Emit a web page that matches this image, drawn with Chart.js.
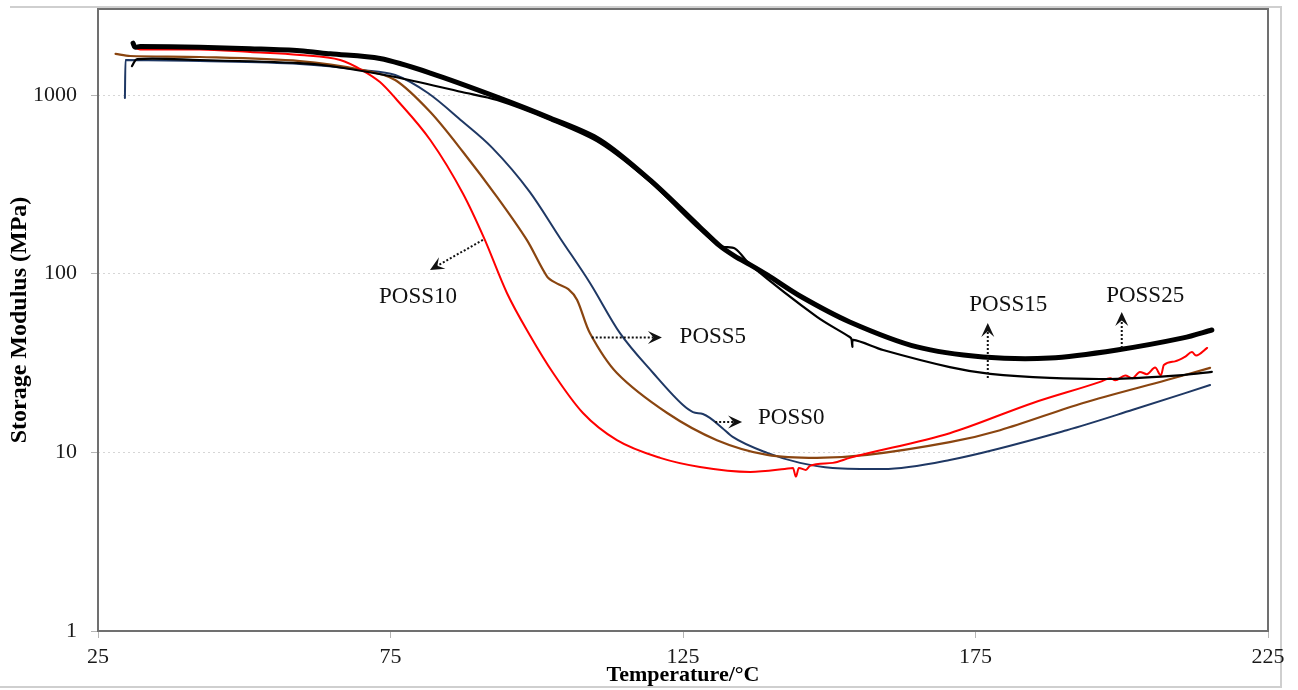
<!DOCTYPE html>
<html><head><meta charset="utf-8">
<script src="https://cdn.jsdelivr.net/npm/chart.js@4.4.1/dist/chart.umd.min.js"></script>
<style>html,body{margin:0;padding:0;background:#fff;overflow:hidden;} canvas{display:block;}</style>
</head><body>
<canvas id="c" width="1298" height="690"></canvas>
<script>
// ---- axis ticks ----
const xTicks = [25, 75, 125, 175, 225];
const yTicks = [1, 10, 100, 1000];

// ---- series (temperature °C, storage modulus MPa) ----
const poss25T = [31.0, 31.3, 32.2, 42.4, 51.0, 59.5, 64.7, 73.2, 81.8, 93.2, 102.3, 110.8, 119.4, 127.9, 131.3, 133.9, 136.5, 139.4, 145.0, 153.5, 165.0, 176.3, 187.7, 199.2, 210.5, 215.4];
const poss25E = [1950, 1856, 1870, 1850, 1815, 1770, 1700, 1600, 1328, 975, 744, 560, 334, 182, 143, 125, 112, 98.4, 75.0, 53.7, 38.9, 34.2, 33.7, 37.4, 43.7, 48.4];

const poss15T = [30.8, 31.7, 42.4, 59.5, 64.7, 75.8, 87.2, 93.2, 102.3, 110.8, 119.4, 127.9, 131.3, 133.9, 136.5, 147.9, 153.5, 153.8, 153.95, 154.1, 159.2, 170.6, 177.5, 187.7, 199.2, 210.5, 215.4];
const poss15E = [1452, 1590, 1570, 1510, 1453, 1261, 1039, 938, 725, 539, 326, 176, 143, 138, 112, 57.3, 44.2, 43.0, 39.0, 42.6, 37.4, 30.0, 27.5, 26.1, 25.8, 27.1, 28.2];

const poss10T = [31.1, 32.2, 42.4, 51.0, 59.5, 66.4, 70.1, 73.2, 76.1, 81.8, 87.4, 91.0, 94.9, 98.8, 102.8, 107.9, 113.7, 121.1, 127.9, 136.5, 142.4, 143.8, 144.3, 144.8, 146.0, 146.7, 150.6, 153.5, 170.6, 184.8, 196.3, 198.0, 198.9, 200.6, 201.8, 203.1, 204.3, 205.7, 206.7, 207.2, 209.1, 210.8, 212.0, 212.7, 214.6];
const poss10E = [1850, 1800, 1800, 1740, 1675, 1570, 1380, 1182, 938, 560, 280, 158, 78.0, 45.4, 27.8, 16.6, 11.7, 9.31, 8.28, 7.77, 8.07, 8.18, 7.3, 8.18, 7.97, 8.4, 8.73, 9.31, 12.8, 18.9, 24.8, 26.0, 25.3, 26.9, 26.0, 28.2, 27.4, 29.8, 27.0, 30.8, 32.3, 34.2, 36.4, 34.8, 38.4];

const poss5T = [28.0, 30.5, 42.4, 59.5, 70.3, 75.8, 81.8, 87.4, 93.2, 98.3, 101.8, 103.5, 105.4, 106.9, 109.1, 113.7, 122.3, 130.8, 139.4, 147.9, 156.5, 170.6, 179.2, 193.4, 207.7, 215.1];
const poss5E = [1700, 1653, 1632, 1549, 1380, 1213, 803, 480, 269, 154.5, 96, 88, 82, 71.3, 46.4, 27.8, 16.6, 11.7, 9.67, 9.31, 9.67, 11.4, 13.3, 18.9, 25.4, 29.7];

const poss0T = [29.6, 29.7, 42.4, 59.5, 70.1, 75.8, 81.4, 87.2, 92.4, 98.8, 104.0, 109.1, 114.2, 119.9, 125.0, 126.7, 128.4, 129.6, 131.7, 133.5, 139.4, 145.0, 150.6, 159.2, 170.6, 190.6, 201.9, 215.1];
const poss0E = [962, 1570, 1549, 1491, 1380, 1294, 1026, 715, 506, 287, 158, 88.7, 46.6, 27.8, 18.4, 16.8, 16.4, 15.6, 13.7, 12.2, 9.93, 8.73, 8.18, 8.07, 9.07, 13.3, 17.3, 23.8];

// ---- annotations (data coordinates) ----
const annoText  = ['POSS10', 'POSS5', 'POSS0', 'POSS15', 'POSS25'];
const annoTextT = [79.7, 130.1, 143.5, 180.6, 204.0];
const annoTextE = [74, 44.2, 15.6, 66.8, 75];
const arrowFromT = [90.8, 109.4, 130.5, 177.1, 200.0];
const arrowFromE = [154.5, 44, 14.8, 26.1, 38.4];
const arrowToT   = [81.75, 121.4, 135.1, 177.1, 200.0];
const arrowToE   = [105, 44, 14.8, 53, 61];

const zip = (t, e) => t.map((v, i) => ({x: v, y: e[i]}));
const SERIF = '"Liberation Serif", "Times New Roman", serif';

const framePlugin = {
  id: 'frame',
  beforeDraw(chart) {
    const ctx = chart.ctx;
    ctx.save();
    ctx.fillStyle = '#fff';
    ctx.fillRect(0, 0, chart.width, chart.height);
    ctx.strokeStyle = '#cfcfcf';
    ctx.lineWidth = 2;
    ctx.beginPath();
    ctx.moveTo(10, 7); ctx.lineTo(1281, 7); ctx.lineTo(1281, 687); ctx.lineTo(0, 687);
    ctx.stroke();
    ctx.restore();
  },
  afterDraw(chart) {
    const ctx = chart.ctx, a = chart.chartArea;
    const xs = chart.scales.x, ys = chart.scales.y;
    ctx.save();
    ctx.strokeStyle = '#707070';
    ctx.lineWidth = 2;
    ctx.strokeRect(a.left, a.top, a.right - a.left, a.bottom - a.top);
    // annotations
    ctx.fillStyle = '#111';
    ctx.font = '23px ' + SERIF;
    ctx.textAlign = 'center';
    ctx.textBaseline = 'middle';
    annoText.forEach((t, i) => {
      ctx.fillText(t, xs.getPixelForValue(annoTextT[i]), ys.getPixelForValue(annoTextE[i]));
      const x1 = xs.getPixelForValue(arrowFromT[i]), y1 = ys.getPixelForValue(arrowFromE[i]);
      const x2 = xs.getPixelForValue(arrowToT[i]), y2 = ys.getPixelForValue(arrowToE[i]);
      const ang = Math.atan2(y2 - y1, x2 - x1);
      const L = 14, W = 13;
      const bx = x2 - Math.cos(ang) * L * 0.6, by = y2 - Math.sin(ang) * L * 0.6;
      ctx.strokeStyle = '#111';
      ctx.lineWidth = 2;
      ctx.setLineDash([2, 2]);
      ctx.beginPath(); ctx.moveTo(x1, y1); ctx.lineTo(bx, by); ctx.stroke();
      ctx.setLineDash([]);
      ctx.save();
      ctx.translate(x2, y2); ctx.rotate(ang);
      ctx.beginPath();
      ctx.moveTo(0, 0); ctx.lineTo(-L, -W / 2); ctx.lineTo(-L * 0.6, 0); ctx.lineTo(-L, W / 2);
      ctx.closePath(); ctx.fill();
      ctx.restore();
    });
    ctx.restore();
  }
};

const mono = {pointRadius: 0, fill: false, cubicInterpolationMode: 'monotone', borderJoinStyle: 'round', borderCapStyle: 'round'};
const smooth = {pointRadius: 0, fill: false, tension: 0.3, borderJoinStyle: 'round', borderCapStyle: 'round'};

new Chart(document.getElementById('c'), {
  type: 'line',
  data: {
    datasets: [
      Object.assign({label: 'POSS25', data: zip(poss25T, poss25E), borderColor: '#000', borderWidth: 5}, smooth),
      Object.assign({label: 'POSS15', data: zip(poss15T, poss15E), borderColor: '#000', borderWidth: 2.2}, smooth),
      Object.assign({label: 'POSS10', data: zip(poss10T, poss10E), borderColor: '#ff0000', borderWidth: 2}, mono),
      Object.assign({label: 'POSS5', data: zip(poss5T, poss5E), borderColor: '#8a4510', borderWidth: 2.2}, smooth),
      Object.assign({label: 'POSS0', data: zip(poss0T, poss0E), borderColor: '#1f3864', borderWidth: 2}, mono)
    ]
  },
  options: {
    responsive: false,
    animation: false,
    devicePixelRatio: 1,
    layout: {padding: {left: 0, top: 9, right: 30, bottom: 0}},
    plugins: {legend: {display: false}, tooltip: {enabled: false}},
    scales: {
      x: {
        type: 'linear', min: 25, max: 225,
        afterBuildTicks: s => { s.ticks = xTicks.map(v => ({value: v})); },
        afterFit: s => { s.height = 59; s.paddingLeft = 0; s.paddingRight = 0; },
        ticks: {font: {family: SERIF, size: 22}, color: '#1a1a1a', padding: 6, maxRotation: 0, autoSkip: false, callback: v => String(v)},
        grid: {drawOnChartArea: false, tickLength: 7, tickColor: '#b5b5b5', tickWidth: 1},
        border: {display: false},
        title: {display: true, text: 'Temperature/°C', color: '#000', font: {family: SERIF, size: 22, weight: 'bold'}, padding: {top: 0, bottom: 1}}
      },
      y: {
        type: 'logarithmic', min: 1, max: 3030,
        afterBuildTicks: s => { s.ticks = yTicks.map(v => ({value: v})); },
        afterFit: s => { s.width = 98; s.paddingTop = 0; s.paddingBottom = 0; },
        ticks: {font: {family: SERIF, size: 22}, color: '#1a1a1a', padding: 14, autoSkip: false, callback: v => String(v)},
        grid: {color: '#d6d6d6', lineWidth: 1, tickLength: 7, tickColor: '#b5b5b5', tickWidth: 1, tickBorderDash: []},
        border: {display: false, dash: [2, 3]},
        title: {display: true, text: 'Storage Modulus (MPa)', color: '#000', font: {family: SERIF, size: 24, weight: 'bold'}, padding: {top: 5, bottom: 0}}
      }
    }
  },
  plugins: [framePlugin]
});
</script>
</body></html>
